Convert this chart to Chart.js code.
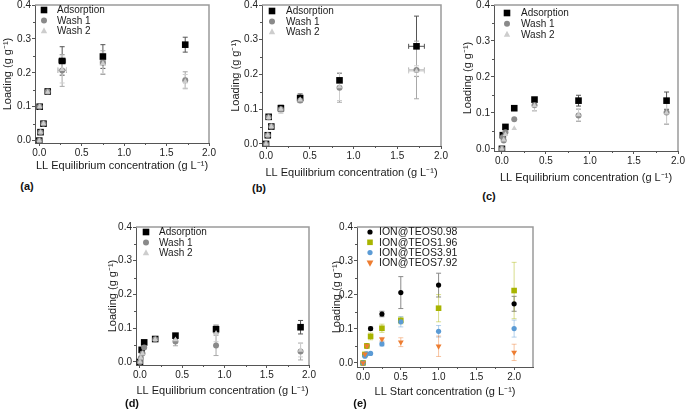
<!DOCTYPE html>
<html><head><meta charset="utf-8">
<script src="https://cdn.jsdelivr.net/npm/chart.js@4.4.1/dist/chart.umd.min.js"></script>
<style>
html,body{margin:0;padding:0;background:#fff;}
#wrap{position:relative;width:685px;height:410px;overflow:hidden;background:#fff;font-family:"Liberation Sans",Arial,sans-serif;}
#wrap canvas{position:absolute;}
.plab{position:absolute;font-weight:bold;font-size:11px;color:#111;transform:translate(-50%,-50%);white-space:nowrap;}
</style></head><body><div id="wrap"></div>
<script>
// ---------- tick labels ----------
const xTicks = [0, 0.5, 1.0, 1.5, 2.0];
const xTickLabels = ['0.0', '0.5', '1.0', '1.5', '2.0'];
const yTicks = [0, 0.1, 0.2, 0.3, 0.4];
const yTickLabels = ['0.0', '0.1', '0.2', '0.3', '0.4'];
const yTitle = 'Loading (g g\u207B\u00B9)';
const xTitleEq = 'LL Equilibrium concentration (g L\u207B\u00B9)';
const xTitleStart = 'LL Start concentration (g L\u207B\u00B9)';
const seriesNames = ['Adsorption', 'Wash 1', 'Wash 2'];
const teosNames = ['ION@TEOS0.98', 'ION@TEOS1.96', 'ION@TEOS3.91', 'ION@TEOS7.92'];

// ---------- panel (a) ----------
const aAdsX   = [0.0, 0.015, 0.05, 0.005, 0.10, 0.27, 0.75, 1.72];
const aAdsY   = [0.0, 0.025, 0.05, 0.10, 0.145, 0.235, 0.248, 0.283];
const aAdsYE  = [0, 0, 0, 0, 0.004, 0.042, 0.035, 0.022];
const aAdsXE  = [0, 0, 0, 0, 0, 0.04, 0.02, 0.02];
const aW1X    = [0.0, 0.015, 0.05, 0.005, 0.10, 0.27, 0.75, 1.72];
const aW1Y    = [0.0, 0.025, 0.05, 0.10, 0.145, 0.207, 0.230, 0.178];
const aW1YE   = [0, 0, 0, 0, 0.004, 0.047, 0.035, 0.025];
const aW1XE   = [0, 0, 0, 0, 0, 0.05, 0.03, 0.02];
const aW2X    = [0.0, 0.015, 0.05, 0.005, 0.10, 0.27, 0.75, 1.72];
const aW2Y    = [0.0, 0.025, 0.05, 0.10, 0.143, 0.21, 0.228, 0.175];
const aW2YE   = [0, 0, 0, 0, 0.004, 0.04, 0.03, 0.02];
const aW2XE   = [0, 0, 0, 0, 0, 0.05, 0.03, 0.02];

// ---------- panel (b) ----------
const bAdsX   = [0.0, 0.02, 0.06, 0.03, 0.17, 0.39, 0.84, 1.72];
const bAdsY   = [0.0, 0.025, 0.05, 0.078, 0.103, 0.132, 0.183, 0.281];
const bAdsYE  = [0, 0, 0, 0.005, 0.008, 0.012, 0.02, 0.087];
const bAdsXE  = [0, 0, 0, 0, 0, 0, 0, 0.09];
const bW1X    = [0.0, 0.02, 0.06, 0.03, 0.17, 0.39, 0.84, 1.72];
const bW1Y    = [0.0, 0.025, 0.05, 0.077, 0.10, 0.125, 0.162, 0.213];
const bW1YE   = [0, 0, 0, 0.004, 0.008, 0.006, 0.042, 0.083];
const bW1XE   = [0, 0, 0, 0, 0, 0, 0, 0.09];
const bW2X    = [0.0, 0.02, 0.06, 0.03, 0.17, 0.39, 0.84, 1.72];
const bW2Y    = [0.0, 0.025, 0.05, 0.076, 0.10, 0.127, 0.165, 0.21];
const bW2YE   = [0, 0, 0, 0.004, 0.012, 0.006, 0.04, 0.015];
const bW2XE   = [0, 0, 0, 0, 0, 0, 0, 0.09];

// ---------- panel (c) ----------
const cAdsX   = [0.0, 0.01, 0.04, 0.14, 0.37, 0.87, 1.87];
const cAdsY   = [0.0, 0.038, 0.061, 0.113, 0.137, 0.134, 0.134];
const cAdsYE  = [0, 0, 0, 0, 0.004, 0.015, 0.024];
const cW1X    = [0.0, 0.01, 0.02, 0.04, 0.14, 0.37, 0.87, 1.87];
const cW1Y    = [0.0, 0.032, 0.023, 0.046, 0.082, 0.121, 0.093, 0.101];
const cW1YE   = [0, 0, 0, 0, 0, 0.015, 0.017, 0.033];
const cW2X    = [0.0, 0.02, 0.04, 0.14, 0.37, 0.87, 1.87];
const cW2Y    = [0.0, 0.025, 0.04, 0.057, 0.12, 0.095, 0.10];
const cW2YE   = [0, 0, 0, 0, 0.015, 0.017, 0.03];

// ---------- panel (d) ----------
const dAdsX   = [0.0, 0.02, 0.05, 0.18, 0.42, 0.90, 1.90];
const dAdsY   = [0.0, 0.036, 0.058, 0.068, 0.078, 0.097, 0.103];
const dAdsYE  = [0, 0, 0, 0, 0.004, 0.012, 0.02];
const dW1X    = [0.0, 0.01, 0.03, 0.05, 0.18, 0.42, 0.90, 1.90];
const dW1Y    = [0.0, 0.012, 0.025, 0.043, 0.067, 0.061, 0.049, 0.031];
const dW1YE   = [0, 0, 0, 0, 0, 0.013, 0.03, 0.025];
const dW2X    = [0.0, 0.01, 0.03, 0.18, 0.42, 0.90, 1.90];
const dW2Y    = [0.0, 0.012, 0.025, 0.067, 0.066, 0.085, 0.035];
const dW2YE   = [0, 0, 0, 0, 0.008, 0.025, 0.02];

// ---------- panel (e) ----------
const eX      = [0, 0.025, 0.05, 0.1, 0.25, 0.5, 1.0, 2.0];
const eT098Y  = [0, 0.025, 0.05, 0.101, 0.144, 0.207, 0.229, 0.174];
const eT098YE = [0, 0, 0, 0.005, 0.008, 0.047, 0.035, 0.022];
const eT196Y  = [0, 0.025, 0.05, 0.078, 0.102, 0.125, 0.161, 0.213];
const eT196YE = [0, 0, 0, 0.01, 0.012, 0.01, 0.04, 0.083];
const eT391Y  = [0, 0.02, 0.027, 0.028, 0.056, 0.121, 0.093, 0.101];
const eT391YE = [0, 0, 0, 0, 0.006, 0.015, 0.017, 0.025];
const eT792X  = [0, 0.025, 0.05, 0.25, 0.5, 1.0, 2.0];
const eT792Y  = [0, 0.026, 0.05, 0.070, 0.061, 0.049, 0.031];
const eT792YE = [0, 0, 0, 0.005, 0.013, 0.03, 0.024];

// ---------- styles ----------
const FONT = '"Liberation Sans", Arial, sans-serif';
const STY = {
  ads:  {shape:'rect', r:3.3, color:'#000000', err:'#555555', order:3},
  w1:   {shape:'circle', r:3, color:'#8a8a8a', err:'#a8a8a8', order:2},
  w2:   {shape:'tri', r:3.2, color:'#cdcdcd', err:'#cfcfcf', order:1},
  t098: {shape:'circle', r:2.6, color:'#000000', err:'#8a8a8a', order:4},
  t196: {shape:'rect', r:2.8, color:'#a8b400', err:'rgba(168,180,0,0.45)', order:3},
  t391: {shape:'circle', r:2.6, color:'#5b9bd5', err:'rgba(91,155,213,0.45)', order:2},
  t792: {shape:'tridown', r:3.4, color:'#ed7d31', err:'rgba(237,125,49,0.45)', order:1}
};

function pts(xs, ys){ return xs.map((x,i)=>({x:x, y:ys[i]})); }
function ser(label, xs, ys, yE, xE, sty){ return {label, data:pts(xs,ys), yErr:yE||[], xErr:xE||[], sty}; }

const panels = [
  {id:'a', plot:{l:35,t:5,r:209,b:143}, yTitleX:8, xTitleY:166, xMin:-0.05, xMax:2.0, yMin:-0.007, yMax:0.4,
   xTitle:xTitleEq, lab:{x:27,y:186,t:'(a)'}, leg:{mx:9,my:5,tx:22,stride:10.5,fs:10},
   series:[ser(seriesNames[0],aAdsX,aAdsY,aAdsYE,aAdsXE,'ads'), ser(seriesNames[1],aW1X,aW1Y,aW1YE,aW1XE,'w1'), ser(seriesNames[2],aW2X,aW2Y,aW2YE,aW2XE,'w2')]},
  {id:'b', plot:{l:262,t:5,r:441,b:146}, yTitleX:236, xTitleY:173, xMin:-0.046, xMax:2.0, yMin:-0.006, yMax:0.4,
   xTitle:xTitleEq, lab:{x:259,y:188,t:'(b)'}, leg:{mx:10,my:6,tx:24,stride:10.5,fs:10},
   series:[ser(seriesNames[0],bAdsX,bAdsY,bAdsYE,bAdsXE,'ads'), ser(seriesNames[1],bW1X,bW1Y,bW1YE,bW1XE,'w1'), ser(seriesNames[2],bW2X,bW2Y,bW2YE,bW2XE,'w2')]},
  {id:'c', plot:{l:494,t:5,r:678,b:151}, yTitleX:468, xTitleY:178, xMin:-0.09, xMax:2.0, yMin:-0.006, yMax:0.4,
   xTitle:xTitleEq, lab:{x:489,y:196,t:'(c)'}, leg:{mx:13,my:8,tx:27,stride:10.7,fs:10},
   series:[ser(seriesNames[0],cAdsX,cAdsY,cAdsYE,null,'ads'), ser(seriesNames[1],cW1X,cW1Y,cW1YE,null,'w1'), ser(seriesNames[2],cW2X,cW2Y,cW2YE,null,'w2')]},
  {id:'d', plot:{l:136,t:227,r:309,b:365}, yTitleX:113, xTitleY:391, xMin:-0.047, xMax:2.0, yMin:-0.009, yMax:0.4,
   xTitle:xTitleEq, lab:{x:132,y:403,t:'(d)'}, leg:{mx:10,my:5,tx:23,stride:10.5,fs:10},
   series:[ser(seriesNames[0],dAdsX,dAdsY,dAdsYE,null,'ads'), ser(seriesNames[1],dW1X,dW1Y,dW1YE,null,'w1'), ser(seriesNames[2],dW2X,dW2Y,dW2YE,null,'w2')]},
  {id:'e', plot:{l:357,t:227,r:533,b:367}, yTitleX:337, xTitleY:392, xMin:-0.08, xMax:2.25, yMin:-0.012, yMax:0.4,
   xTitle:xTitleStart, lab:{x:360,y:403,t:'(e)'}, leg:{mx:13,my:5,tx:22,stride:10.3,fs:10.5},
   series:[ser(teosNames[0],eX,eT098Y,eT098YE,null,'t098'), ser(teosNames[1],eX,eT196Y,eT196YE,null,'t196'), ser(teosNames[2],eX,eT391Y,eT391YE,null,'t391'), ser(teosNames[3],eT792X,eT792Y,eT792YE,null,'t792')]}
];

function drawMarker(ctx, shape, x, y, r, color){
  ctx.fillStyle = color;
  ctx.beginPath();
  if (shape === 'rect') { ctx.rect(x-r, y-r, 2*r, 2*r); }
  else if (shape === 'circle') { ctx.arc(x, y, r, 0, Math.PI*2); }
  else if (shape === 'tri') { ctx.moveTo(x, y-r*1.15); ctx.lineTo(x+r, y+r*0.7); ctx.lineTo(x-r, y+r*0.7); ctx.closePath(); }
  else if (shape === 'tridown') { ctx.moveTo(x, y+r*1.15); ctx.lineTo(x+r, y-r*0.7); ctx.lineTo(x-r, y-r*0.7); ctx.closePath(); }
  ctx.fill();
}

const errorBars = {
  id:'errorBars',
  beforeDatasetsDraw(chart){
    const {ctx} = chart; const xs = chart.scales.x, ys = chart.scales.y;
    ctx.save(); ctx.lineWidth = 1;
    chart.data.datasets.forEach(ds => {
      ctx.strokeStyle = STY[ds.sty].err;
      ds.data.forEach((p, j) => {
        const px = xs.getPixelForValue(p.x), py = ys.getPixelForValue(p.y);
        const ye = ds.yErr[j] || 0, xe = ds.xErr[j] || 0;
        ctx.beginPath();
        if (ye > 0) {
          const y1 = ys.getPixelForValue(p.y + ye), y2 = ys.getPixelForValue(p.y - ye);
          ctx.moveTo(px, y1); ctx.lineTo(px, y2);
          ctx.moveTo(px-2.5, y1); ctx.lineTo(px+2.5, y1);
          ctx.moveTo(px-2.5, y2); ctx.lineTo(px+2.5, y2);
        }
        if (xe > 0) {
          const x1 = xs.getPixelForValue(p.x - xe), x2 = xs.getPixelForValue(p.x + xe);
          ctx.moveTo(x1, py); ctx.lineTo(x2, py);
          ctx.moveTo(x1, py-2.5); ctx.lineTo(x1, py+2.5);
          ctx.moveTo(x2, py-2.5); ctx.lineTo(x2, py+2.5);
        }
        ctx.stroke();
      });
    });
    ctx.restore();
  }
};

const frameAndMinor = {
  id:'frameAndMinor',
  afterDraw(chart){
    const {ctx, chartArea:a} = chart; const xs = chart.scales.x, ys = chart.scales.y;
    ctx.save();
    ctx.strokeStyle = '#9a9a9a'; ctx.lineWidth = 1.5;
    ctx.beginPath();
    ctx.moveTo(a.left, a.top); ctx.lineTo(a.right, a.top); ctx.lineTo(a.right, a.bottom);
    ctx.stroke();
    ctx.strokeStyle = '#555'; ctx.lineWidth = 1;
    ctx.beginPath();
    for (let i = 0; i < xTicks.length - 1; i++) {
      const px = Math.round(xs.getPixelForValue((xTicks[i] + xTicks[i+1]) / 2)) + 0.5;
      ctx.moveTo(px, a.bottom); ctx.lineTo(px, a.bottom + 2);
    }
    for (let i = 0; i < yTicks.length - 1; i++) {
      const py = Math.round(ys.getPixelForValue((yTicks[i] + yTicks[i+1]) / 2)) + 0.5;
      ctx.moveTo(a.left, py); ctx.lineTo(a.left - 2, py);
    }
    ctx.stroke();
    // legend inside plot
    const L = chart.options.plugins.inLegend;
    ctx.font = L.fs + 'px ' + FONT; ctx.textBaseline = 'middle'; ctx.textAlign = 'left';
    chart.data.datasets.forEach((ds, i) => {
      const s = STY[ds.sty];
      const y = a.top + L.my + i * L.stride;
      drawMarker(ctx, s.shape, a.left + L.mx, y, s.r, s.color);
      ctx.fillStyle = '#1a1a1a';
      ctx.fillText(ds.label, a.left + L.tx, y + 0.5);
    });
    ctx.restore();
  }
};

const wrap = document.getElementById('wrap');
panels.forEach(P => {
  const cl = Math.round(P.yTitleX - 6.6);
  const ct = P.plot.t - 8;
  const cr = P.plot.r + 12;
  const Wy = P.plot.l - cl;
  const Hx = Math.round(P.xTitleY + 6.6 - P.plot.b);
  const W = cr - cl, H = P.plot.b + Hx - ct;
  const cv = document.createElement('canvas');
  cv.width = W; cv.height = H;
  cv.style.left = cl + 'px'; cv.style.top = ct + 'px';
  cv.style.width = W + 'px'; cv.style.height = H + 'px';
  wrap.appendChild(cv);
  const lab = document.createElement('div');
  lab.className = 'plab'; lab.textContent = P.lab.t;
  lab.style.left = P.lab.x + 'px'; lab.style.top = P.lab.y + 'px';
  wrap.appendChild(lab);

  const datasets = P.series.map(s => {
    const st = STY[s.sty];
    return {
      label: s.label, data: s.data, yErr: s.yErr, xErr: s.xErr, sty: s.sty, order: st.order,
      showLine: false,
      pointStyle: st.shape === 'rect' ? 'rect' : (st.shape === 'circle' ? 'circle' : 'triangle'),
      rotation: st.shape === 'tridown' ? 180 : 0,
      pointRadius: st.shape === 'rect' ? st.r * Math.SQRT2 : st.r,
      pointBackgroundColor: st.color, pointBorderColor: st.color, pointBorderWidth: 0,
      pointHoverRadius: st.r
    };
  });

  new Chart(cv, {
    type: 'scatter',
    data: { datasets },
    options: {
      responsive: false, animation: false, devicePixelRatio: 1,
      layout: { padding: { left: 0, top: 8, right: 12, bottom: 0 } },
      plugins: { legend: { display: false }, tooltip: { enabled: false }, inLegend: P.leg },
      scales: {
        x: {
          type: 'linear', min: P.xMin, max: P.xMax,
          afterBuildTicks: s => { s.ticks = xTicks.map(v => ({ value: v })); },
          afterFit: s => { s.height = Hx; },
          ticks: { callback: (v, i) => xTickLabels[i], font: { size: 10, family: FONT }, color: '#222', padding: 1, maxRotation: 0, autoSkip: false },
          grid: { drawOnChartArea: false, drawTicks: true, tickLength: 3, color: '#555', tickColor: '#555' },
          border: { display: true, color: '#555', width: 1 },
          title: { display: true, text: P.xTitle, font: { size: 11, family: FONT }, color: '#1a1a1a', padding: 0 }
        },
        y: {
          type: 'linear', min: P.yMin, max: P.yMax,
          afterBuildTicks: s => { s.ticks = yTicks.map(v => ({ value: v })); },
          afterFit: s => { s.width = Wy; },
          ticks: { callback: (v, i) => yTickLabels[i], font: { size: 10, family: FONT }, color: '#222', padding: 1, autoSkip: false },
          grid: { drawOnChartArea: false, drawTicks: true, tickLength: 3, color: '#555', tickColor: '#555' },
          border: { display: true, color: '#555', width: 1 },
          title: { display: true, text: yTitle, font: { size: 11, family: FONT }, color: '#1a1a1a', padding: 0 }
        }
      }
    },
    plugins: [errorBars, frameAndMinor]
  });
});
</script></body></html>
